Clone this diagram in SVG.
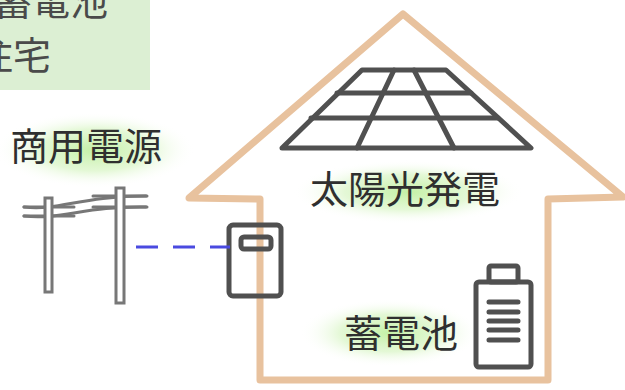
<svg xmlns="http://www.w3.org/2000/svg" width="625" height="390" viewBox="0 0 625 390">
  <defs>
    <radialGradient id="glow" cx="50%" cy="50%" r="50%">
      <stop offset="0" stop-color="#c4f0a6" stop-opacity="1"/>
      <stop offset="0.55" stop-color="#d8f5c4" stop-opacity="0.7"/>
      <stop offset="1" stop-color="#ffffff" stop-opacity="0"/>
    </radialGradient>
    <style>
      .lbl { font-family: "Noto Sans CJK JP", "Noto Sans", sans-serif; font-size: 38px; fill: #2f2f2f; }
      .legend { font-family: "Noto Sans CJK JP", "Noto Sans", sans-serif; font-size: 38px; fill: #4a4a4a; }
      .house { fill: none; stroke: #e8c29e; stroke-width: 7; stroke-linejoin: round; stroke-linecap: round; }
      .ink { fill: none; stroke: #505050; stroke-width: 5; stroke-linejoin: round; stroke-linecap: round; }
      .pole { fill: #fff; stroke: #777; stroke-width: 3; }
      .wire { fill: none; stroke: #777; stroke-width: 3; stroke-linecap: round; }
      .feed { fill: none; stroke: #4a4ae0; stroke-width: 3; stroke-dasharray: 22 15; }
    </style>
  </defs>

  <rect width="625" height="390" fill="#ffffff"/>

  <!-- legend box, partly cropped at the top-left -->
  <g id="legend">
    <rect x="-10" y="-10" width="160" height="100" fill="#dcefd3"/>
    <text class="legend" x="-6" y="15">蓄電池</text>
    <text class="legend" x="-25" y="69">住宅</text>
  </g>

  <!-- house outline -->
  <g id="house">
    <path class="house" d="M 260 380 L 260 199 L 189 198 L 403 14 L 623 197 L 548 199 L 548 380 Z"/>
  </g>

  <!-- label glows -->
  <ellipse cx="95" cy="150" rx="100" ry="38" fill="url(#glow)"/>
  <ellipse cx="408" cy="192" rx="115" ry="32" fill="url(#glow)"/>
  <ellipse cx="390" cy="333" rx="90" ry="34" fill="url(#glow)"/>

  <!-- utility supply -->
  <g id="grid-supply">
    <text class="lbl" x="10" y="160">商用電源</text>
    <g id="poles">
      <path class="wire" d="M 24 207 C 60 211, 80 196, 146 196"/>
      <path class="wire" d="M 24 216 C 62 220, 85 206, 146 207"/>
      <path class="wire" d="M 24 207 L 74 207 M 24 216 L 74 216"/>
      <path class="wire" d="M 93 196 L 147 196 M 93 207 L 147 207"/>
      <rect class="pole" x="45" y="198" width="7" height="94"/>
      <rect class="pole" x="116" y="188" width="8" height="115"/>
    </g>
  </g>

  <!-- meter / power conditioner -->
  <g id="meter">
    <rect class="ink" x="229" y="225" width="52" height="71" rx="4"/>
    <rect class="ink" x="241" y="237" width="30" height="12" rx="3"/>
  </g>

  <!-- solar panel -->
  <g id="solar">
    <path class="ink" d="M 362 70 L 446 70 L 531 148 L 282 148 Z"/>
    <path class="ink" d="M 337 93 L 471 93 M 311 118 L 498 118"/>
    <path class="ink" d="M 394 70 L 357 148 M 414 70 L 454 148"/>
    <text class="lbl" x="310" y="203">太陽光発電</text>
  </g>

  <!-- battery -->
  <g id="battery">
    <text class="lbl" x="344" y="347">蓄電池</text>
    <rect class="ink" x="489" y="266" width="29" height="16" rx="2"/>
    <rect class="ink" x="476" y="282" width="55" height="85" rx="3"/>
    <path class="ink" d="M 489 302 L 518 302 M 489 312 L 518 312 M 489 321 L 518 321 M 489 330 L 518 330 M 489 340 L 518 340"/>
  </g>

  <!-- feed line from utility to meter -->
  <g id="connectors">
    <path class="feed" d="M 136 247 L 230 247"/>
  </g>
</svg>
